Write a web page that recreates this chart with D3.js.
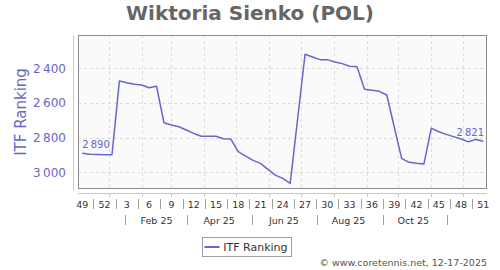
<!DOCTYPE html>
<html>
<head>
<meta charset="utf-8">
<script src="https://cdn.jsdelivr.net/npm/d3@7/dist/d3.min.js"></script>
<style>
  html, body { margin: 0; padding: 0; background: #fff; }
  svg { display: block; font-family: "DejaVu Sans", sans-serif; }
</style>
</head>
<body>
<svg id="chart" width="500" height="270"></svg>
<script>
// ---- data ----
const title = "Wiktoria Sienko (POL)";
const seriesName = "ITF Ranking";
const firstWeekDate = "2024-12-07";
const rankings = [
  2890, 2896, 2897, 2898, 2898, 2473, 2483, 2492, 2496, 2512,
  2504, 2714, 2727, 2737, 2756, 2775, 2792, 2792, 2792, 2806,
  2808, 2881, 2906, 2931, 2948, 2983, 3016, 3035, 3064, 2691,
  2319, 2335, 2350, 2350, 2364, 2373, 2388, 2391, 2521, 2527,
  2533, 2554, 2737, 2919, 2942, 2948, 2952, 2745, 2766, 2781,
  2794, 2808, 2824, 2810, 2821
];
const weekLabels = ["49","52","3","6","9","12","15","18","21","24","27","30","33","36","39","42","45","48","51"];
const monthLabels = ["Feb 25","Apr 25","Jun 25","Aug 25","Oct 25"];
const yTicks = [2400, 2600, 2800, 3000];
const yDomain = [2208, 3096];
const footer = "\u00A9 www.coretennis.net, 12-17-2025";

// ---- layout ----
const svg = d3.select("#chart");
const plot = { left: 78, top: 35, right: 487, bottom: 189 };
const lineColor = "#6666cc";

const start = d3.utcParse("%Y-%m-%d")(firstWeekDate);
const dates = rankings.map((v, i) => d3.utcDay.offset(start, 7 * i));

const x = d3.scaleUtc()
  .domain([dates[0], dates[dates.length - 1]])
  .range([plot.left + 4.3, plot.right - 3.7]);
const y = d3.scaleLinear().domain(yDomain).range([plot.top, plot.bottom]);

// title
svg.append("text")
  .attr("x", 250).attr("y", 20)
  .attr("text-anchor", "middle")
  .attr("font-size", 20).attr("font-weight", "bold")
  .attr("fill", "#666")
  .text(title);

// plot background
svg.append("rect")
  .attr("x", plot.left + 0.5).attr("y", plot.top + 0.5)
  .attr("width", plot.right - plot.left - 1).attr("height", plot.bottom - plot.top - 1)
  .attr("fill", "#fafafa");

// grid
const grid = svg.append("g").attr("stroke", "#dcdcdc").attr("stroke-dasharray", "3,3").attr("shape-rendering", "crispEdges");
grid.selectAll("line.h").data(yTicks).join("line")
  .attr("x1", plot.left).attr("x2", plot.right)
  .attr("y1", d => Math.round(y(d)) + 0.5).attr("y2", d => Math.round(y(d)) + 0.5);
const monthStarts = d3.utcMonth.range(d3.utcMonth.ceil(dates[0]), dates[dates.length - 1]);
grid.selectAll("line.v").data(monthStarts).join("line")
  .attr("x1", d => Math.round(x(d)) + 0.5).attr("x2", d => Math.round(x(d)) + 0.5)
  .attr("y1", plot.top).attr("y2", plot.bottom);

// plot border
svg.append("rect")
  .attr("x", plot.left + 0.5).attr("y", plot.top + 0.5)
  .attr("width", plot.right - plot.left - 1).attr("height", plot.bottom - plot.top - 1)
  .attr("fill", "none").attr("stroke", "#8c8c8c");

// y axis
svg.append("line")
  .attr("x1", 73.5).attr("x2", 73.5).attr("y1", plot.top).attr("y2", plot.bottom + 1)
  .attr("stroke", "#c4c4ee");
svg.append("g").selectAll("text").data(yTicks).join("text")
  .attr("x", 66).attr("y", d => y(d) + 4.5)
  .attr("text-anchor", "end")
  .attr("font-size", 12).attr("fill", lineColor)
  .text(d => d3.format(",")(d).replace(",", "\u2009"));
svg.append("text")
  .attr("transform", `translate(26,${(plot.top + plot.bottom) / 2}) rotate(-90)`)
  .attr("text-anchor", "middle")
  .attr("font-size", 15).attr("fill", lineColor)
  .text(seriesName);

// x axis
const axisY = 193;
svg.append("line")
  .attr("x1", plot.left).attr("x2", plot.right)
  .attr("y1", axisY + 0.5).attr("y2", axisY + 0.5)
  .attr("stroke", "#c8c8c8");
svg.append("g").selectAll("line").data(monthStarts).join("line")
  .attr("x1", d => Math.round(x(d)) + 0.5).attr("x2", d => Math.round(x(d)) + 0.5)
  .attr("y1", axisY).attr("y2", axisY + 4)
  .attr("stroke", "#c8c8c8");

const labelIdx = weekLabels.map((w, k) => k * 3);
svg.append("g").selectAll("text").data(weekLabels).join("text")
  .attr("x", (d, k) => x(dates[labelIdx[k]]))
  .attr("y", 208)
  .attr("text-anchor", "middle")
  .attr("font-size", 9.5).attr("fill", "#333")
  .text(d => d);
const weekSeps = labelIdx.slice(1).map((idx, k) => new Date((dates[idx].getTime() + dates[labelIdx[k]].getTime()) / 2));
svg.append("g").selectAll("line").data(weekSeps).join("line")
  .attr("x1", d => Math.round(x(d)) + 0.5).attr("x2", d => Math.round(x(d)) + 0.5)
  .attr("y1", 199).attr("y2", 209)
  .attr("stroke", "#a0a0a0");

const parseMonth = d3.utcParse("%b %y");
const monthDates = monthLabels.map(m => d3.utcDay.offset(parseMonth(m), 14));
svg.append("g").selectAll("text").data(monthLabels).join("text")
  .attr("x", (d, k) => x(monthDates[k]))
  .attr("y", 224)
  .attr("text-anchor", "middle")
  .attr("font-size", 9.5).attr("fill", "#333")
  .text(d => d);
const monthSeps = [d3.utcMonth.offset(monthDates[0], -1)].concat(monthDates.map(d => d3.utcMonth.offset(d, 1)))
  .map(d => d3.utcDay.offset(d, 1));
svg.append("g").selectAll("line").data(monthSeps).join("line")
  .attr("x1", d => Math.round(x(d)) + 0.5).attr("x2", d => Math.round(x(d)) + 0.5)
  .attr("y1", 215).attr("y2", 225)
  .attr("stroke", "#a0a0a0");

// line
const line = d3.line().x((d, i) => x(dates[i])).y(d => y(d));
svg.append("path")
  .datum(rankings)
  .attr("d", line)
  .attr("fill", "none")
  .attr("stroke", lineColor)
  .attr("stroke-width", 1.5)
  .attr("stroke-linejoin", "round");

// data labels (first & last)
const fmt = d => d3.format(",")(d).replace(",", "\u2009");
const first = 0, last = rankings.length - 1;
svg.append("text")
  .attr("x", x(dates[first])).attr("y", y(rankings[first]) - 5.5)
  .attr("text-anchor", "start")
  .attr("font-size", 10).attr("fill", lineColor)
  .text(fmt(rankings[first]));
svg.append("text")
  .attr("x", plot.right - 3).attr("y", y(rankings[last]) - 5.5)
  .attr("text-anchor", "end")
  .attr("font-size", 10).attr("fill", lineColor)
  .text(fmt(rankings[last]));

// legend
const legend = svg.append("g");
const legText = legend.append("text")
  .attr("x", 223.3).attr("y", 251)
  .attr("font-size", 11).attr("fill", "#333")
  .text(seriesName);
const tw = legText.node().getComputedTextLength();
legend.insert("rect", "text")
  .attr("x", 202.5).attr("y", 237.5)
  .attr("width", 223.3 + tw + 4 - 202.5).attr("height", 19)
  .attr("fill", "#fff").attr("stroke", "#a0a0a0");
legend.append("line")
  .attr("x1", 204.5).attr("x2", 219.5).attr("y1", 247).attr("y2", 247)
  .attr("stroke", lineColor).attr("stroke-width", 2);

// footer
svg.append("text")
  .attr("x", 487).attr("y", 265.5)
  .attr("text-anchor", "end")
  .attr("font-size", 9.5).attr("fill", "#555")
  .text(footer);
</script>
</body>
</html>
